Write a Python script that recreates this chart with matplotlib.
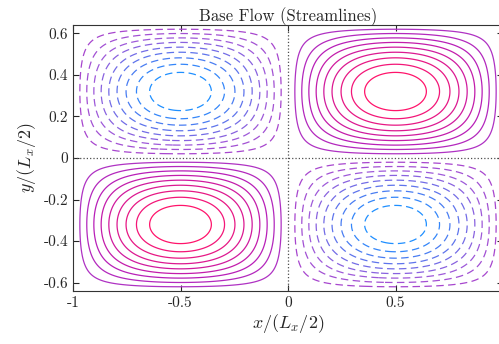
import numpy as np
import matplotlib.pyplot as plt
from matplotlib.colors import LinearSegmentedColormap

plt.rcParams['font.family'] = 'serif'
plt.rcParams['font.serif'] = ['cmr10', 'DejaVu Serif']
plt.rcParams['mathtext.fontset'] = 'cm'
plt.rcParams['axes.unicode_minus'] = False

# streamfunction levels (positive = solid, negative = dashed)
niveles = [-0.9, -0.8, -0.7, -0.6, -0.5, -0.4, -0.3, -0.2, -0.1,
           0.1, 0.2, 0.3, 0.4, 0.5, 0.6, 0.7, 0.8, 0.9]
Ly = 0.64  # half height of the domain, in units of Lx/2
xticks = [-1, -0.5, 0, 0.5]
xticklabels = ['-1', '-0.5', '0', '0.5']
yticks = [-0.6, -0.4, -0.2, 0, 0.2, 0.4, 0.6]
yticklabels = ['-0.6', '-0.4', '-0.2', '0', '0.2', '0.4', '0.6']

x = np.linspace(-1, 1, 600)
y = np.linspace(-Ly, Ly, 400)
X, Y = np.meshgrid(x, y)
Psi = np.sin(np.pi * X) * np.sin(np.pi * Y / Ly)

colores = LinearSegmentedColormap.from_list(
    'flujo', [(0.12, 0.56, 1.0), (0.62, 0.35, 0.85), (0.72, 0.12, 0.72), (1.0, 0.08, 0.42)])

fig = plt.figure(figsize=(4.99, 3.44), dpi=100)
ax = fig.add_axes([73/499, 1-291/344, 430/499, 266/344])

neg = [n for n in niveles if n < 0]
pos = [n for n in niveles if n > 0]
ax.contour(X, Y, Psi, levels=neg, cmap=colores, vmin=-0.9, vmax=0.9,
           linewidths=0.9, linestyles=[(0, (6, 3.5))])
ax.contour(X, Y, Psi, levels=pos, cmap=colores, vmin=-0.9, vmax=0.9,
           linewidths=0.9, linestyles='solid')

ax.axhline(0, color='0.3', linestyle=':', linewidth=0.9)
ax.axvline(0, color='0.3', linestyle=':', linewidth=0.9)

ax.set_xlim(-1, 1)
ax.set_ylim(-Ly, Ly)
ax.set_xticks(xticks)
ax.set_xticklabels(xticklabels)
ax.set_yticks(yticks)
ax.set_yticklabels(yticklabels)
ax.tick_params(direction='in', top=True, right=True, labelsize=11, colors='0.15', length=4)
for s in ax.spines.values():
    s.set_color('0.2')

ax.set_title('Base Flow (Streamlines)', fontsize=12, color='0.15', pad=3)
ax.set_xlabel(r'$x/(L_x/2)$', fontsize=13, color='0.15', labelpad=2)
ax.set_ylabel(r'$y/(L_x/2)$', fontsize=13, color='0.15', labelpad=4)

fig.savefig('out.png', dpi=100)
